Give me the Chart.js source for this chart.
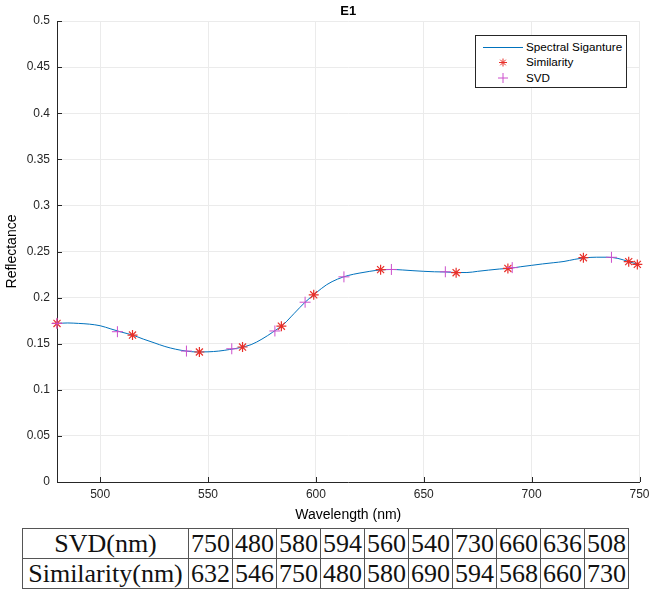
<!DOCTYPE html>
<html>
<head>
<meta charset="utf-8">
<script src="https://cdn.jsdelivr.net/npm/chart.js@4/dist/chart.umd.min.js"></script>
<style>
  html, body { margin: 0; padding: 0; background: #fff; }
  #wrap { position: relative; width: 651px; height: 592px; }
  #c { position: absolute; left: 0; top: 0; }
  #legend { position: absolute; left: 475px; top: 35px; width: 150px; height: 51px;
    border: 1px solid #262626; background: #fff; font: 11.7px "Liberation Sans", Arial, sans-serif; color: #000; }
  #legend .row { position: absolute; left: 50px; white-space: nowrap; line-height: 14px; }
  #legend svg { position: absolute; left: 0; top: 0; }
  table { position: absolute; left: 22px; top: 528px; border-collapse: collapse;
    font-family: "Liberation Serif", "Times New Roman", serif; font-size: 26px; color: #111; }
  td { border: 1px solid #555; text-align: center; padding: 0; height: 29px; line-height: 29px; width: 43px; }
  td.h { width: 165px; }
</style>
</head>
<body>
<div id="wrap">
  <canvas id="c" width="651" height="525"></canvas>
  <div id="legend">
    <svg width="150" height="51">
      <line x1="7" y1="11.5" x2="47" y2="11.5" stroke="#0072BD" stroke-width="1"/>
      <g stroke="#e8302a" stroke-width="1">
        <line x1="23" y1="26.5" x2="31" y2="26.5"/>
        <line x1="27" y1="22.5" x2="27" y2="30.5"/>
        <line x1="24.2" y1="23.7" x2="29.8" y2="29.3"/>
        <line x1="24.2" y1="29.3" x2="29.8" y2="23.7"/>
      </g>
      <g stroke="#cc4fcc" stroke-width="1">
        <line x1="22" y1="42" x2="32" y2="42"/>
        <line x1="27" y1="37" x2="27" y2="47"/>
      </g>
    </svg>
    <div class="row" style="top:4px">Spectral Siganture</div>
    <div class="row" style="top:19px">Similarity</div>
    <div class="row" style="top:35px">SVD</div>
  </div>
  <table id="tbl"></table>
</div>
<script>
const wavelengths = [480,485,490,495,500,505,510,515,520,525,530,535,540,545,550,555,560,565,570,575,580,585,590,595,600,605,610,615,620,625,630,635,640,645,650,655,660,665,670,675,680,685,690,695,700,705,710,715,720,725,730,735,740,745,750];
const reflectance = [0.172,0.1725,0.172,0.1712,0.1695,0.166,0.1625,0.1594,0.155,0.151,0.147,0.144,0.142,0.141,0.1412,0.142,0.1437,0.1458,0.149,0.155,0.1625,0.171,0.183,0.195,0.205,0.214,0.220,0.224,0.2265,0.2285,0.230,0.2305,0.230,0.2292,0.2285,0.228,0.2278,0.2272,0.2272,0.2285,0.2298,0.231,0.2318,0.2335,0.235,0.2365,0.2378,0.2392,0.2415,0.2432,0.2438,0.2438,0.2425,0.239,0.2355];
const similarityWl = [480,515,546,566,584,599,630,665,689,724,745,749];
const similarityRefl = [0.172,0.1594,0.141,0.1464,0.169,0.203,0.2303,0.227,0.2316,0.2433,0.239,0.236];
const svdWl = [480,508,540,561,581,595,613,635,660,691,737];
const svdRefl = [0.172,0.163,0.142,0.1445,0.1638,0.195,0.2225,0.2305,0.228,0.2325,0.2437];
const xTicks = [500,550,600,650,700,750];
const yTicks = [0,0.05,0.1,0.15,0.2,0.25,0.3,0.35,0.4,0.45,0.5];
const yTickLabels = ['0','0.05','0.1','0.15','0.2','0.25','0.3','0.35','0.4','0.45','0.5'];
const tableSvd = [750,480,580,594,560,540,730,660,636,508];
const tableSimilarity = [632,546,750,480,580,690,594,568,660,730];
const chartTitle = 'E1';

// table
(function(){
  const t = document.getElementById('tbl');
  function row(head, vals){
    const tr = document.createElement('tr');
    const th = document.createElement('td'); th.className='h'; th.textContent = head; tr.appendChild(th);
    vals.forEach(v => { const td = document.createElement('td'); td.textContent = v; tr.appendChild(td); });
    t.appendChild(tr);
  }
  row('SVD(nm)', tableSvd);
  row('Similarity(nm)', tableSimilarity);
})();

const axisColor = '#262626';
const fam = '"Liberation Sans", Arial, sans-serif';
const tickFont = { family: fam, size: 12 };

const innerTicks = {
  id: 'innerTicks',
  afterDraw(chart) {
    const ctx = chart.ctx, a = chart.chartArea;
    const xs = chart.scales.x, ys = chart.scales.y;
    ctx.save();
    ctx.strokeStyle = axisColor; ctx.lineWidth = 1;
    ctx.beginPath();
    xTicks.forEach(v => { const px = Math.round(xs.getPixelForValue(v)) + 0.5; ctx.moveTo(px, a.bottom); ctx.lineTo(px, a.bottom - 5); });
    yTicks.forEach(v => { const py = Math.round(ys.getPixelForValue(v)) + 0.5; ctx.moveTo(a.left, py); ctx.lineTo(a.left + 5, py); });
    ctx.stroke();
    ctx.fillStyle = '#000';
    ctx.font = 'bold 13px ' + fam;
    ctx.textAlign = 'center'; ctx.textBaseline = 'middle';
    ctx.fillText(chartTitle, (a.left + a.right) / 2, 11.5);
    ctx.restore();
  }
};

new Chart(document.getElementById('c'), {
  type: 'scatter',
  data: {
    datasets: [
      { label: 'Spectral Siganture', data: wavelengths.map((w,i)=>({x:w, y:reflectance[i]})),
        showLine: true, borderColor: '#0072BD', borderWidth: 1, pointRadius: 0, tension: 0.4, cubicInterpolationMode: 'monotone', order: 3 },
      { label: 'Similarity', data: similarityWl.map((w,i)=>({x:w, y:similarityRefl[i]})),
        pointStyle: 'star', pointRadius: 5, borderColor: '#e8302a', backgroundColor: '#e8302a', borderWidth: 1.2, clip: false, order: 2 },
      { label: 'SVD', data: svdWl.map((w,i)=>({x:w, y:svdRefl[i]})),
        pointStyle: 'cross', pointRadius: 5.5, borderColor: '#cc4fcc', backgroundColor: '#cc4fcc', borderWidth: 1, clip: false, order: 1 }
    ]
  },
  options: {
    responsive: false, animation: false, devicePixelRatio: 1,
    layout: { padding: { left: 0, right: 11.5, top: 21, bottom: 0 } },
    plugins: { legend: { display: false }, tooltip: { enabled: false }, title: { display: false } },
    scales: {
      x: {
        type: 'linear', min: 480, max: 750,
        afterBuildTicks: s => { s.ticks = xTicks.map(v => ({ value: v })); },
        afterFit: s => { s.height = 43; s.paddingLeft = 0; s.paddingRight = 0; },
        ticks: { font: tickFont, color: axisColor, padding: 5, maxRotation: 0, callback: v => String(v) },
        grid: { color: '#ebebeb', drawTicks: false },
        border: { display: true, color: axisColor, width: 1 },
        title: { display: true, text: 'Wavelength (nm)', font: { family: fam, size: 14 }, color: '#000', padding: { top: 0, bottom: 1 } }
      },
      y: {
        type: 'linear', min: 0, max: 0.5,
        afterBuildTicks: s => { s.ticks = yTicks.map(v => ({ value: v })); },
        afterFit: s => { s.width = 57; s.paddingTop = 0; s.paddingBottom = 0; },
        ticks: { font: tickFont, color: axisColor, padding: 7, callback: (v) => yTickLabels[yTicks.findIndex(t => Math.abs(t - v) < 1e-9)] },
        grid: { color: '#ebebeb', drawTicks: false },
        border: { display: true, color: axisColor, width: 1 },
        title: { display: true, text: 'Reflectance', font: { family: fam, size: 14 }, color: '#000', padding: { top: 4, bottom: 0 } }
      }
    }
  },
  plugins: [innerTicks]
});
</script>
</body>
</html>
